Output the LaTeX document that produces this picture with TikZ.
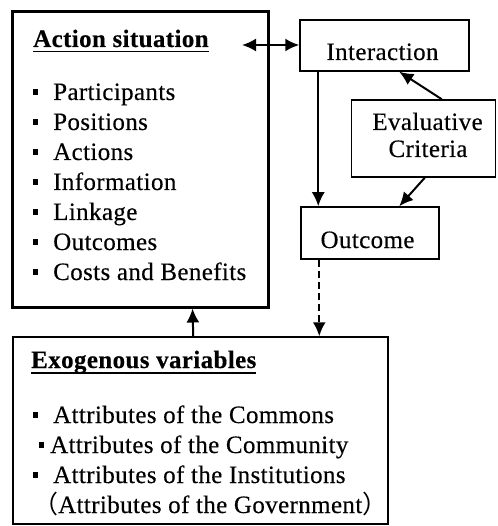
\documentclass[tikz,border=0pt]{standalone}
\usepackage{fontspec}
\setmainfont{Liberation Serif}[LetterSpace=1.5,FakeBold=0.3]
\newfontfamily\cjkf{Noto Sans CJK JP}
\usetikzlibrary{arrows.meta}
\newcommand\sqb{\rule[0.2em]{5pt}{6pt}}
\newcommand\myul[1]{\setbox0\hbox{#1}\rlap{\rule[-5.5pt]{\wd0}{1.8pt}}\box0}
\begin{document}
\begin{tikzpicture}[x=1pt,y=-1pt,
  txt/.style={inner sep=0pt, font=\fontsize{25}{30}\selectfont},
  lbl/.style={txt, anchor=base west},
  ctr/.style={txt, anchor=base},
  box/.style={draw, line width=1.5pt, inner sep=0pt},
  tip/.tip={Latex[length=14pt,width=13pt]},
  arr/.style={line width=2pt, -tip},
]
\useasboundingbox (0,0) rectangle (497,526);
% boxes
\node[box, line width=3pt, minimum width=256pt, minimum height=295pt] (act) at (140,159.5) {};
\node[box, minimum width=169pt, minimum height=51pt] (inter) at (384.5,45.5) {};
\node[box, minimum width=144pt, minimum height=77pt] (eval) at (423.5,138.5) {};
\node[box, minimum width=138pt, minimum height=52pt] (out) at (370,233) {};
\node[box, minimum width=375pt, minimum height=187pt] (exo) at (200.5,430.5) {};
% action situation texts
\node[lbl] (ah) at (33,47) {\bfseries\myul{Action situation}};
\foreach \t [count=\i] in {Participants,Positions,Actions,Information,Linkage,Outcomes,Costs and Benefits}
  \node[lbl] (a\i) at (33,{70+30*\i}) {\makebox[20pt][l]{\sqb}\t};
% small boxes texts
\node[ctr] (tint) at (382.5,60) {Interaction};
\node[ctr] (tev1) at (427.5,130) {Evaluative};
\node[ctr] (tev2) at (428,157) {Criteria};
\node[ctr] (tout) at (367.5,248) {Outcome};
% exogenous texts
\node[lbl] (eh) at (31,368) {\bfseries\myul{Exogenous variables}};
\node[lbl] (e1) at (33,423) {\makebox[20pt][l]{\sqb}Attributes of the Commons};
\node[lbl] (e2) at (39,453) {\makebox[11pt][l]{\sqb}Attributes of the Community};
\node[lbl] (e3) at (33,483) {\makebox[20pt][l]{\sqb}Attributes of the Institutions};
\node[lbl] (e4) at (33,513) {{\cjkf （}Attributes of the Government{\cjkf ）}};
% connectors
\coordinate (dl) at (242,45);
\draw[line width=2pt, tip-tip] (dl) -- (dl -| inter.west);
\draw[arr] ([xshift=19pt]inter.south west) -- ([xshift=18pt]out.north west);
\draw[arr] ([xshift=91pt]eval.north west) -- ([xshift=100pt]inter.south west);
\draw[arr] ([xshift=74pt]eval.south west) -- ([xshift=99pt]out.north west);
\draw[arr, dash pattern=on 7pt off 4pt] ([xshift=19pt]out.south west) -- ([xshift=307pt]exo.north west);
\draw[arr] ([xshift=181pt]exo.north west) -- ([xshift=182pt]act.south west);
\end{tikzpicture}
\end{document}
